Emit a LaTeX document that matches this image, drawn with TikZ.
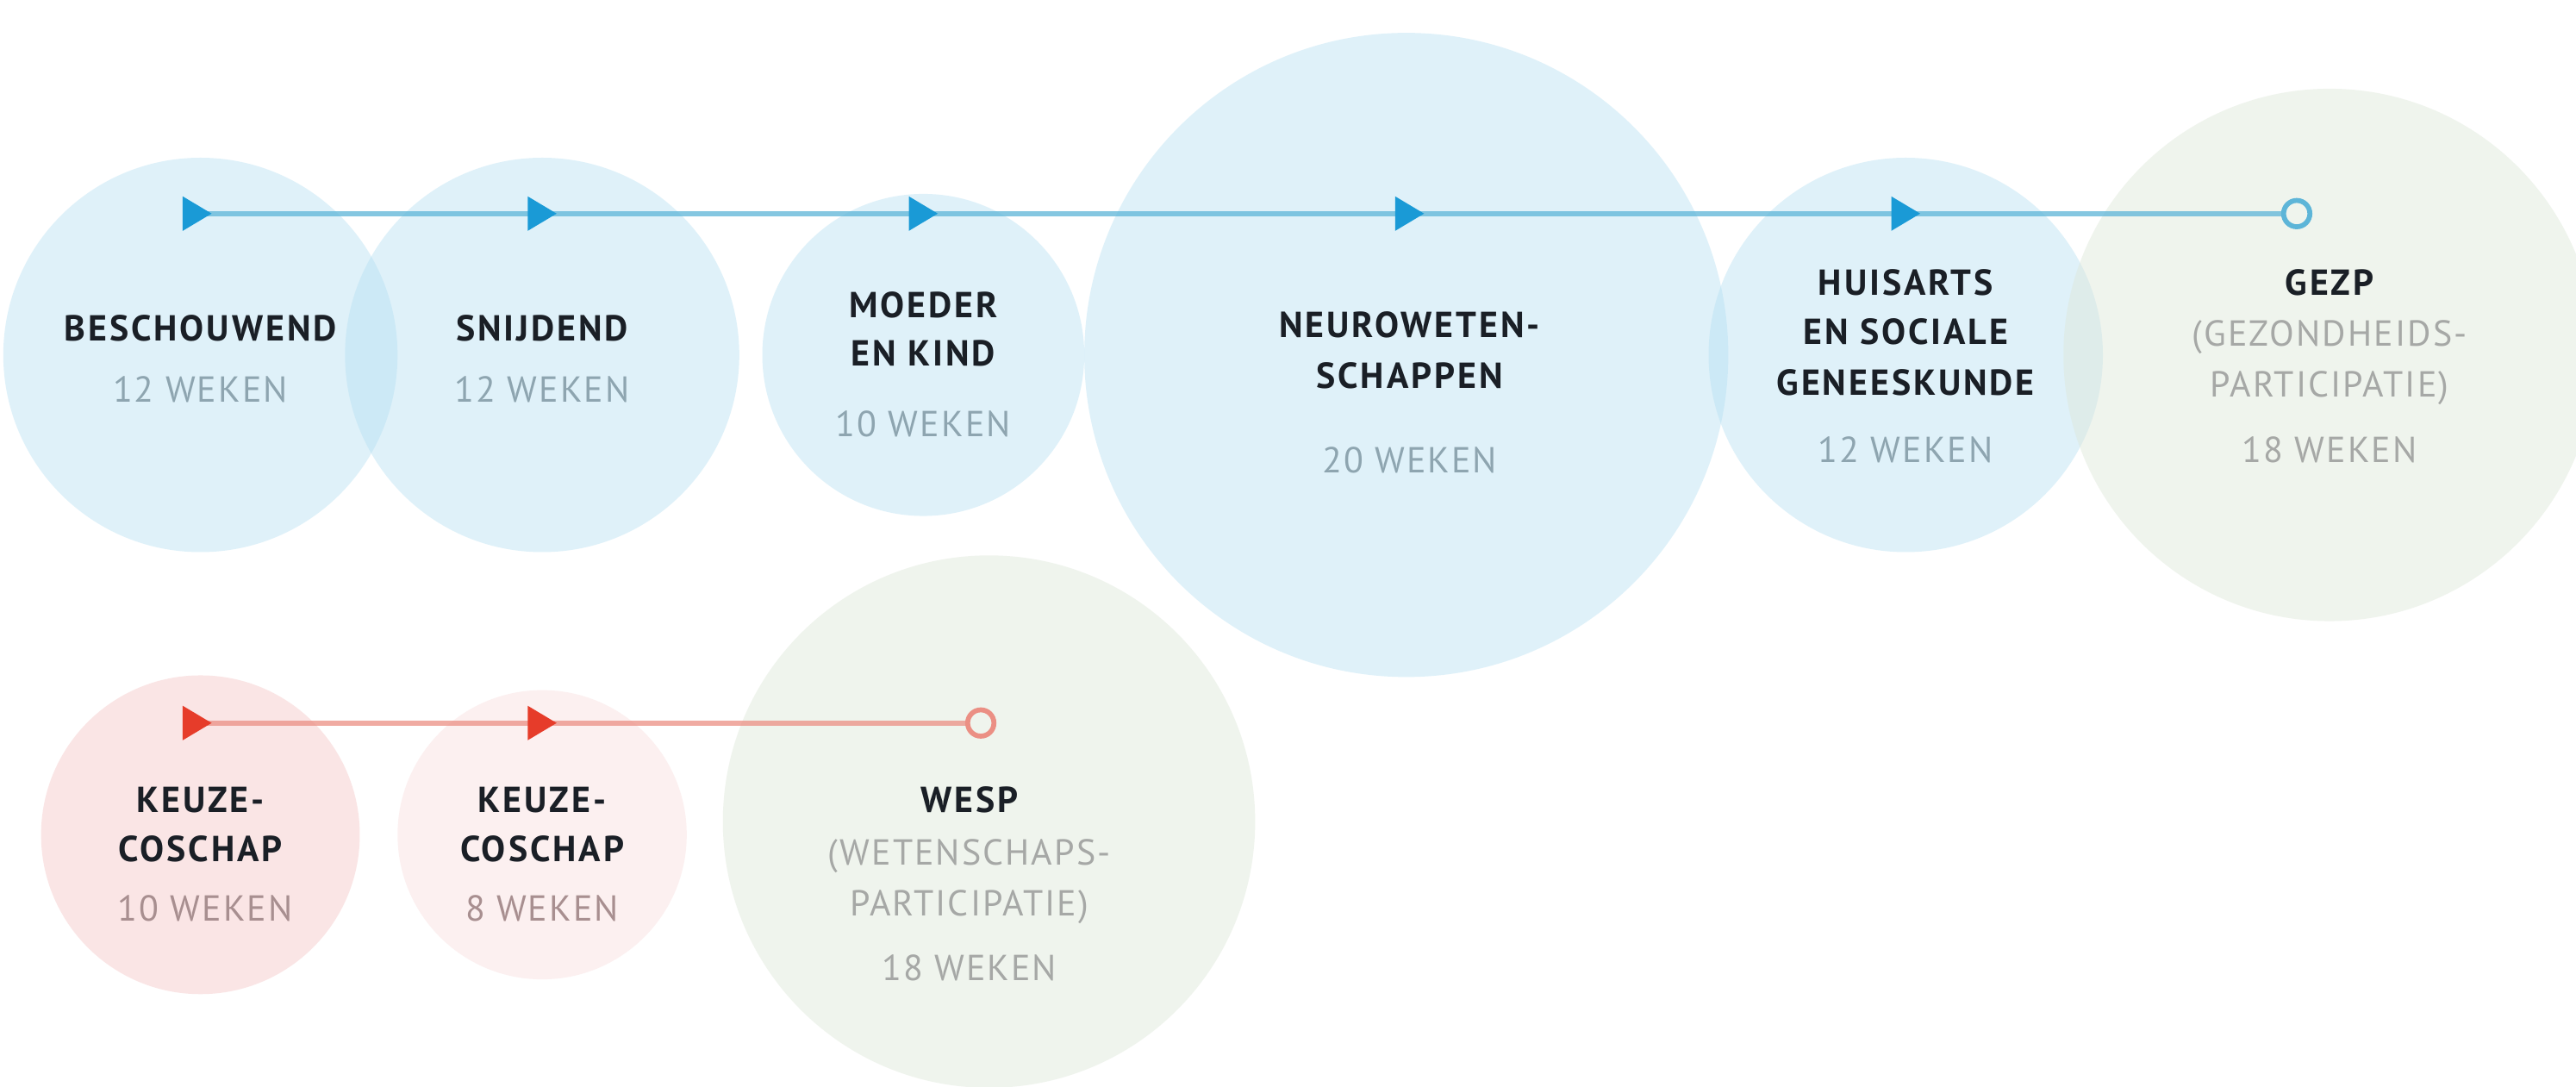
\documentclass[tikz,border=0pt]{standalone}
\usepackage{fontspec}
\setmainfont{PT Sans}
\newfontfamily\tfont[LetterSpace=7]{PT Sans}
\newfontfamily\wfont[LetterSpace=5]{PT Sans}
\definecolor{bluefill}{HTML}{B1DEF2}
\definecolor{greenfill}{HTML}{DDE7D9}
\definecolor{redfillA}{HTML}{F5C3C3}
\definecolor{redfillB}{HTML}{F9DEDE}
\definecolor{bluearrow}{HTML}{1A9AD6}
\definecolor{blueline}{HTML}{5DB5D8}
\definecolor{redarrow}{HTML}{E63C2A}
\definecolor{redline}{HTML}{EB8F84}
\definecolor{titlecol}{HTML}{1A1F26}
\definecolor{bluegray}{HTML}{8EA5B0}
\definecolor{graytxt}{HTML}{A6A8A6}
\definecolor{pinktxt}{HTML}{A88F90}
\tikzset{
  circ/.style={circle, inner sep=0pt, minimum size=#1*1pt, draw=none},
  bcirc/.style={circ=#1, fill=bluefill, fill opacity=0.4},
  gcirc/.style={circ=#1, fill=greenfill, fill opacity=0.45},
  rcircA/.style={circ=#1, fill=redfillA, fill opacity=0.42},
  rcircB/.style={circ=#1, fill=redfillB, fill opacity=0.45},
  ttl/.style={anchor=base, inner sep=0pt, text=titlecol, font=\tfont\bfseries\fontsize{11}{12}\selectfont},
  wk/.style={anchor=base, inner sep=0pt, text=#1, font=\wfont\fontsize{11}{12}\selectfont},
  endmark/.style={circle, draw=#1, line width=1.5pt, minimum size=8pt, inner sep=0pt},
  tline/.style={draw=#1, line width=1.5pt, draw opacity=0.75},
}
\newcommand{\tri}[2]{\fill[#1] ([xshift=-4.4pt,yshift=5.25pt]#2) -- ([xshift=4.4pt]#2) -- ([xshift=-4.4pt,yshift=-5.25pt]#2) -- cycle;}
\begin{document}
\begin{tikzpicture}[x=0.5pt,y=-0.5pt]
\useasboundingbox (0,0) rectangle (1568,661.5);
\fill[white] (0,0) rectangle (1568,661.5);
% top row circles
\node[bcirc=120] (besch) at (122,216) {};
\node[bcirc=120] (snij) at (330,216) {};
\node[bcirc=98] (moeder) at (562,216) {};
\node[bcirc=196] (neuro) at (856,216) {};
\node[bcirc=120] (huis) at (1160,216) {};
\node[gcirc=162] (gezp) at (1418,216) {};
% bottom row circles
\node[rcircA=97] (keuzeA) at (122,508) {};
\node[rcircB=88] (keuzeB) at (330,508) {};
\node[gcirc=162] (wesp) at (602,500) {};
% top line
\coordinate (ta1) at (120,130);
\coordinate (ta2) at (330,130);
\coordinate (ta3) at (562,130);
\coordinate (ta4) at (858,130);
\coordinate (ta5) at (1160,130);
\node[endmark=blueline] (tend) at (1398,130) {};
\draw[tline=blueline] (ta1) -- (tend.west);
\tri{bluearrow}{ta1}
\tri{bluearrow}{ta2}
\tri{bluearrow}{ta3}
\tri{bluearrow}{ta4}
\tri{bluearrow}{ta5}
% bottom line
\coordinate (ba1) at (120,440);
\coordinate (ba2) at (330,440);
\node[endmark=redline] (bend) at (597,440) {};
\draw[tline=redline] (ba1) -- (bend.west);
\tri{redarrow}{ba1}
\tri{redarrow}{ba2}
% texts top
\node[ttl] (t1) at (122,207.5) {BESCHOUWEND};
\node[wk=bluegray] (w1) at (122,244.5) {12 WEKEN};
\node[ttl] (t2) at (330,207.5) {SNIJDEND};
\node[wk=bluegray] (w2) at (330,244.5) {12 WEKEN};
\node[ttl] (t3a) at (562,193.5) {MOEDER};
\node[ttl] (t3b) at (562,222.5) {EN KIND};
\node[wk=bluegray] (w3) at (562,265.5) {10 WEKEN};
\node[ttl] (t4a) at (858,205.5) {NEUROWETEN-};
\node[ttl] (t4b) at (858,236.5) {SCHAPPEN};
\node[wk=bluegray] (w4) at (858,287.5) {20 WEKEN};
\node[ttl] (t5a) at (1160,179.5) {HUISARTS};
\node[ttl] (t5b) at (1160,209.5) {EN SOCIALE};
\node[ttl] (t5c) at (1160,240.5) {GENEESKUNDE};
\node[wk=bluegray] (w5) at (1160,281.5) {12 WEKEN};
\node[ttl] (t6a) at (1418,179.5) {GEZP};
\node[wk=graytxt] (t6b) at (1418,210.5) {(GEZONDHEIDS-};
\node[wk=graytxt] (t6c) at (1418,241.5) {PARTICIPATIE)};
\node[wk=graytxt] (w6) at (1418,281.5) {18 WEKEN};
% texts bottom
\node[ttl] (k1a) at (122,494.5) {KEUZE-};
\node[ttl] (k1b) at (122,524.5) {COSCHAP};
\node[wk=pinktxt] (kw1) at (125,560.5) {10 WEKEN};
\node[ttl] (k2a) at (330,494.5) {KEUZE-};
\node[ttl] (k2b) at (330,524.5) {COSCHAP};
\node[wk=pinktxt] (kw2) at (330,560.5) {8 WEKEN};
\node[ttl] (ws1) at (590,494.5) {WESP};
\node[wk=graytxt] (ws2) at (590,526.5) {(WETENSCHAPS-};
\node[wk=graytxt] (ws3) at (590,557.5) {PARTICIPATIE)};
\node[wk=graytxt] (ws4) at (590,596.5) {18 WEKEN};
\end{tikzpicture}
\end{document}
